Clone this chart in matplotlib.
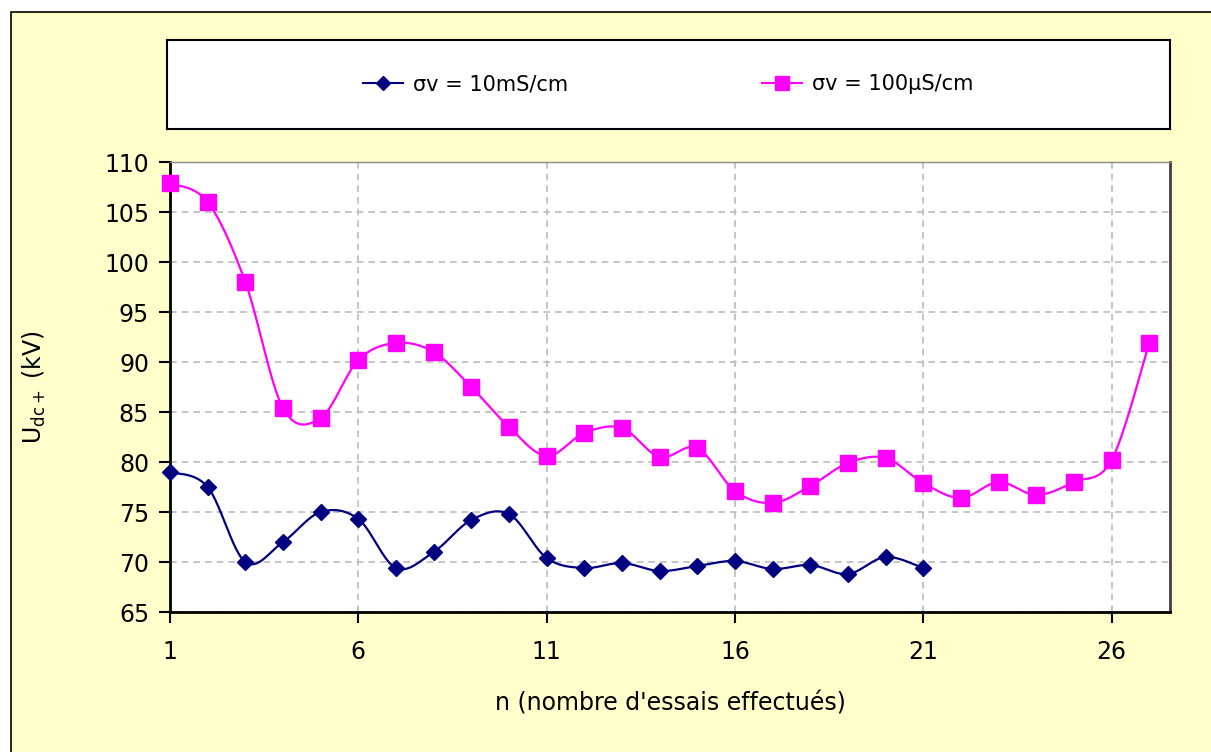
import numpy as np
import matplotlib.pyplot as plt
from matplotlib.patches import Rectangle
from matplotlib.lines import Line2D

# essais n, series
n_10mS = list(range(1, 22))
u_10mS = [79.0, 77.5, 70.0, 72.0, 75.0, 74.3, 69.4, 71.0, 74.2, 74.8, 70.4,
          69.4, 69.9, 69.1, 69.6, 70.1, 69.3, 69.7, 68.8, 70.5, 69.4]

n_100uS = list(range(1, 28))
u_100uS = [107.9, 106.0, 98.0, 85.4, 84.4, 90.2, 91.9, 91.0, 87.5, 83.5, 80.6,
           82.9, 83.4, 80.5, 81.4, 77.1, 75.9, 77.6, 79.9, 80.4, 77.9,
           76.4, 78.0, 76.7, 78.0, 80.2, 91.9]

xticks = [1, 6, 11, 16, 21, 26]
yticks = [65, 70, 75, 80, 85, 90, 95, 100, 105, 110]

label_10mS = 'σv = 10mS/cm'
label_100uS = 'σv = 100µS/cm'
col_10mS = '#000080'
col_100uS = '#FF00FF'


def smooth(x, y, steps=30):
    # Excel-like smoothed line (cardinal spline through the points)
    x = np.asarray(x, float)
    y = np.asarray(y, float)
    p = np.column_stack([x, y])
    ext = np.vstack([p[0], p, p[-1]])
    out = []
    t = np.linspace(0, 1, steps)[:, None]
    for i in range(len(p) - 1):
        p0, p1, p2, p3 = ext[i], ext[i + 1], ext[i + 2], ext[i + 3]
        c1 = p1 + (p2 - p0) / 6
        c2 = p2 - (p3 - p1) / 6
        seg = ((1 - t) ** 3) * p1 + 3 * ((1 - t) ** 2) * t * c1 + 3 * (1 - t) * t ** 2 * c2 + t ** 3 * p2
        out.append(seg)
    out = np.vstack(out)
    return out[:, 0], out[:, 1]


W, H = 1211, 752
fig = plt.figure(figsize=(W / 100, H / 100), dpi=100)
fig.patch.set_facecolor('white')

# chart area (yellow) with border
fig.patches.append(Rectangle((11 / W, -0.05), 1.0, (H - 12) / H + 0.05, transform=fig.transFigure,
                             facecolor='#FFFFCC', edgecolor='black', linewidth=1.2, zorder=-5))

# plot area
left, right, top, bottom = 170, 1170, 162, 612
ax = fig.add_axes([left / W, 1 - bottom / H, (right - left) / W, (bottom - top) / H])
ax.set_facecolor('white')

xs, ys = smooth(n_10mS, u_10mS)
ax.plot(xs, ys, color=col_10mS, linewidth=1.6, zorder=3, clip_on=False)
ax.plot(n_10mS, u_10mS, linestyle='none', marker='D', markersize=8.5,
        color=col_10mS, zorder=4, clip_on=False)

xs, ys = smooth(n_100uS, u_100uS)
ax.plot(xs, ys, color=col_100uS, linewidth=1.6, zorder=3, clip_on=False)
ax.plot(n_100uS, u_100uS, linestyle='none', marker='s', markersize=11.5,
        color=col_100uS, zorder=4, clip_on=False)

ax.set_xlim(1, 27.55)
ax.set_ylim(65, 110)
ax.set_xticks(xticks)
ax.set_yticks(yticks)
ax.grid(True, color='#BBBBBB', linestyle=(0, (4, 3)), linewidth=1.2)
ax.set_axisbelow(True)
ax.tick_params(axis='both', labelsize=17, length=8, width=1.5, direction='out', pad=7)
ax.tick_params(axis='x', pad=12)
for s in ['left', 'bottom']:
    ax.spines[s].set_linewidth(2)
    ax.spines[s].set_color('black')
ax.spines['right'].set_color('#404040')
ax.spines['right'].set_linewidth(2)
ax.spines['top'].set_color('#888888')
ax.spines['top'].set_linewidth(1)

ax.set_xlabel("n (nombre d'essais effectués)", fontsize=17, labelpad=20)
ax.set_ylabel(r'U$\mathregular{_{dc+}}$ (kV)', fontsize=17, labelpad=40)

# legend box
lax = fig.add_axes([167 / W, 1 - 129 / H, (1170 - 167) / W, (129 - 40) / H])
lax.set_xticks([])
lax.set_yticks([])
lax.set_facecolor('white')
for s in lax.spines.values():
    s.set_linewidth(1.5)
    s.set_color('black')
handles = [Line2D([], [], color=col_10mS, marker='D', markersize=7, linewidth=1.5),
           Line2D([], [], color=col_100uS, marker='s', markersize=10, linewidth=1.5)]
lax.legend(handles, [label_10mS, label_100uS], loc='center', ncol=2, frameon=False,
           fontsize=15, columnspacing=9.3, handlelength=1.9, handletextpad=0.5)

fig.savefig('out.png', dpi=100)
